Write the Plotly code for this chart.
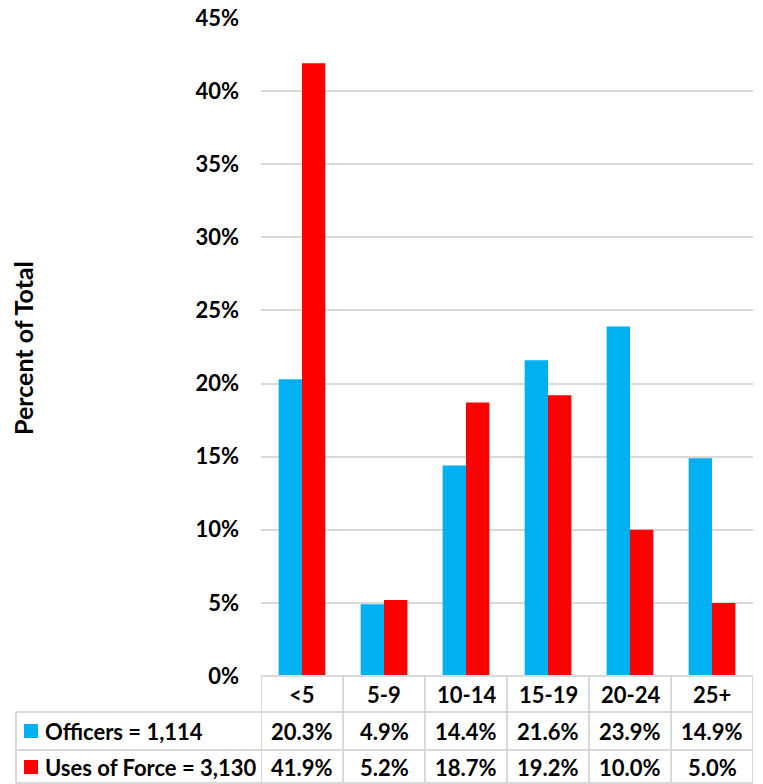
import plotly.graph_objects as go

# Years-of-service groups and the share of officers / uses of force in each
categories = ["<5", "5-9", "10-14", "15-19", "20-24", "25+"]
officers_pct = [20.3, 4.9, 14.4, 21.6, 23.9, 14.9]
force_pct = [41.9, 5.2, 18.7, 19.2, 10.0, 5.0]
series_names = ["Officers = 1,114", "Uses of Force = 3,130"]
series_colors = ["#00B0F0", "#FF0000"]
y_ticks = [0, 5, 10, 15, 20, 25, 30, 35, 40, 45]

W, H = 763, 784
FONT = "Lato"
FS = 22
GRID = "#D9D9D9"


def py(pix):
    """Pixel row (from top) -> paper y."""
    return 1 - pix / H


def px(pix):
    return pix / W


def bold(s):
    return f"<b>{s}</b>"


fig = go.Figure()
for name, vals, col in zip(series_names, [officers_pct, force_pct], series_colors):
    fig.add_trace(go.Bar(x=categories, y=vals, name=name, marker_color=col,
                         marker_line_width=0, showlegend=False))

plot_left, plot_right = 261, 753
plot_top, plot_bottom = 18, 676
row_lines = [676, 712, 750, 783]
row_centers = [694, 731, 767]
table_left = 16

shapes = []
# horizontal rules of the data table
for i, yl in enumerate(row_lines):
    x0 = plot_left if i == 0 else table_left
    shapes.append(dict(type="line", xref="paper", yref="paper",
                       x0=px(x0), x1=px(plot_right), y0=py(yl), y1=py(yl),
                       line=dict(color=GRID, width=2)))
# vertical rules: one between each category column
n = len(categories)
for k in range(n + 1):
    shapes.append(dict(type="line", xref="x", yref="paper",
                       x0=k - 0.5, x1=k - 0.5, y0=py(row_lines[0]), y1=py(row_lines[-1]),
                       line=dict(color=GRID, width=2)))
# left edge of the legend column
shapes.append(dict(type="line", xref="paper", yref="paper",
                   x0=px(table_left), x1=px(table_left), y0=py(row_lines[1]), y1=py(row_lines[-1]),
                   line=dict(color=GRID, width=2)))

annotations = []
txt_font = dict(family=FONT, size=FS, color="#000000")
# header row with the category names
for cat in categories:
    annotations.append(dict(x=cat, y=py(row_centers[0]), xref="x", yref="paper",
                            text=bold(cat.replace("<", "&lt;")), showarrow=False, font=txt_font,
                            xanchor="center", yanchor="middle"))
# value rows
for r, vals in enumerate([officers_pct, force_pct]):
    for cat, v in zip(categories, vals):
        annotations.append(dict(x=cat, y=py(row_centers[r + 1]), xref="x", yref="paper",
                                text=bold(f"{v:.1f}%"), showarrow=False, font=txt_font,
                                xanchor="center", yanchor="middle"))
    # legend key + series name
    yc = row_centers[r + 1]
    shapes.append(dict(type="rect", xref="paper", yref="paper",
                       x0=px(24), x1=px(38), y0=py(yc - 7), y1=py(yc + 7),
                       fillcolor=series_colors[r], line=dict(width=0)))
    annotations.append(dict(x=px(43), y=py(yc), xref="paper", yref="paper",
                            text=bold(series_names[r]), showarrow=False, font=txt_font,
                            xanchor="left", yanchor="middle"))

# y-axis title
annotations.append(dict(x=px(23), y=py(348), xref="paper", yref="paper",
                        text=bold("Percent of Total"), textangle=-90, showarrow=False,
                        font=dict(family=FONT, size=25, color="#000000"),
                        xanchor="center", yanchor="middle"))

fig.update_layout(
    template="none",
    width=W, height=H,
    margin=dict(l=0, r=0, t=0, b=0, autoexpand=False),
    paper_bgcolor="white", plot_bgcolor="white",
    barmode="group", bargap=0.43, bargroupgap=0,
    font=dict(family=FONT, size=FS, color="#000000"),
    xaxis=dict(domain=[px(plot_left), px(plot_right)], showticklabels=False,
               showgrid=False, zeroline=False, showline=False, ticks="",
               range=[-0.5, n - 0.5], automargin=False),
    yaxis=dict(domain=[py(plot_bottom), py(plot_top)], range=[0, 45],
               tickvals=y_ticks, ticktext=[bold(f"{t}%") for t in y_ticks],
               tickfont=dict(family=FONT, size=FS, color="#000000"),
               showgrid=True, gridcolor=GRID, gridwidth=2, zeroline=False,
               showline=False, ticks="", ticklabelstandoff=21, automargin=False),
    shapes=shapes, annotations=annotations,
)

fig.write_html("out.html")
